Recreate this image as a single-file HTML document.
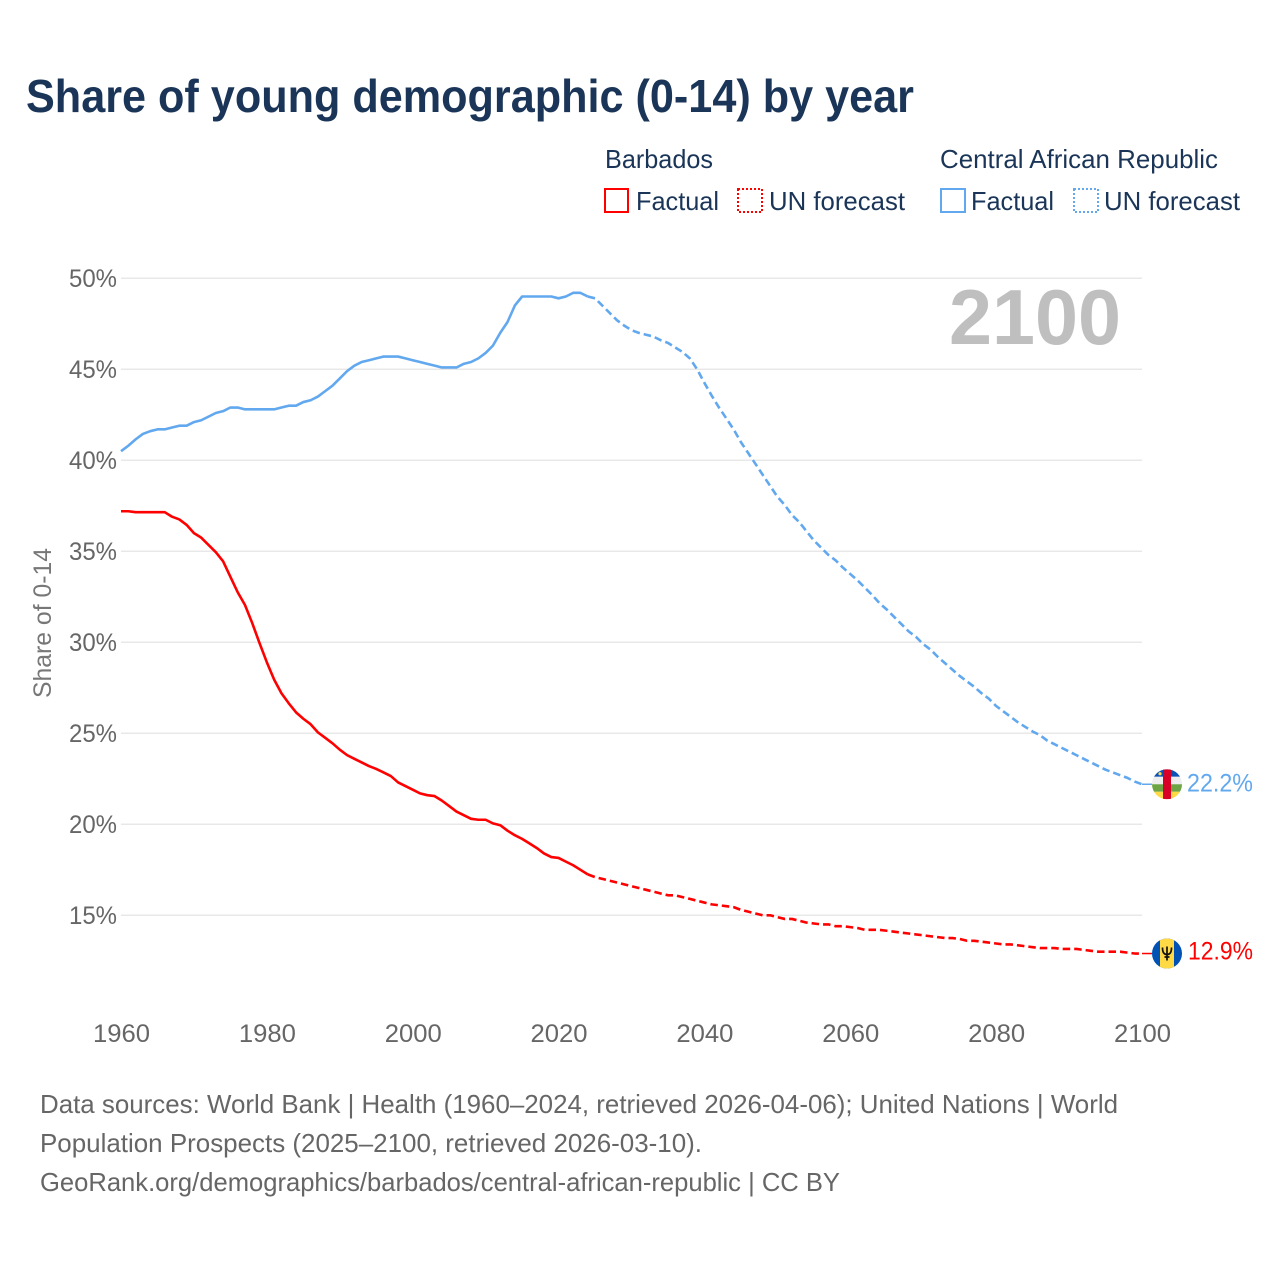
<!DOCTYPE html>
<html lang="en">
<head>
<meta charset="utf-8">
<title>Share of young demographic (0-14) by year</title>
<style>
html,body{margin:0;padding:0;background:#fff;width:1280px;height:1280px;overflow:hidden}
svg{display:block}
text{font-family:"Liberation Sans",sans-serif}
</style>
</head>
<body>
<svg id="chart" width="1280" height="1280" viewBox="0 0 1280 1280" xmlns="http://www.w3.org/2000/svg">
  <defs>
    <clipPath id="flag-clip"><circle cx="0" cy="0" r="15"/></clipPath>
  </defs>
  <rect width="1280" height="1280" fill="#fff"/>

  <text x="26" y="112" font-size="46" font-weight="700" fill="#1a3557" textLength="888" lengthAdjust="spacingAndGlyphs">Share of young demographic (0-14) by year</text>

  <g font-size="26" fill="#1a3557">
    <text x="605" y="168" textLength="108" lengthAdjust="spacingAndGlyphs">Barbados</text>
    <rect x="605" y="189" width="23" height="23" fill="none" stroke="#ff0000" stroke-width="2"/>
    <text x="636" y="210" textLength="83" lengthAdjust="spacingAndGlyphs">Factual</text>
    <rect x="738" y="189" width="24" height="23" fill="none" stroke="#ff0000" stroke-width="2" stroke-dasharray="2 2"/>
    <text x="769" y="210" textLength="136" lengthAdjust="spacingAndGlyphs">UN forecast</text>
    <text x="940" y="168" textLength="278" lengthAdjust="spacingAndGlyphs">Central African Republic</text>
    <rect x="941" y="189" width="24" height="23" fill="none" stroke="#62a8ee" stroke-width="2"/>
    <text x="971" y="210" textLength="83" lengthAdjust="spacingAndGlyphs">Factual</text>
    <rect x="1074" y="189" width="24" height="23" fill="none" stroke="#62a8ee" stroke-width="2" stroke-dasharray="2 2"/>
    <text x="1104" y="210" textLength="136" lengthAdjust="spacingAndGlyphs">UN forecast</text>
  </g>

  <g id="grid"></g>
  <g id="y-ticks"></g>
  <g id="x-ticks"></g>

  <text transform="translate(51,698) rotate(-90)" font-size="25" fill="#777777" textLength="150" lengthAdjust="spacingAndGlyphs">Share of 0-14</text>
  <text x="949" y="344" font-size="78" font-weight="700" fill="#bfbfbf" textLength="172" lengthAdjust="spacingAndGlyphs">2100</text>

  <g id="series"></g>

  <g id="flag-car">
    <g clip-path="url(#flag-clip)">
      <rect x="-15" y="-15" width="30" height="7.5" fill="#0a52b4"/>
      <rect x="-15" y="-7.5" width="30" height="7.5" fill="#eeeeee"/>
      <rect x="-15" y="0" width="30" height="7.5" fill="#6da544"/>
      <rect x="-15" y="7.5" width="30" height="7.5" fill="#ffda44"/>
      <rect x="-4" y="-15" width="8" height="30" fill="#d80027"/>
      <circle cx="-7" cy="-10.5" r="1.6" fill="#ffda44"/>
    </g>
  </g>
  <g id="flag-barbados">
    <g clip-path="url(#flag-clip)">
      <rect x="-15" y="-15" width="30" height="30" fill="#0052b4"/>
      <rect x="-7" y="-15" width="14" height="30" fill="#ffda44"/>
      <path d="M-4.5 -6 C-4.5 -1 -3 1 0 1 C3 1 4.5 -1 4.5 -6 M0 -7 L0 7 M-2.5 3.5 L2.5 3.5" fill="none" stroke="#111" stroke-width="1.7"/>
    </g>
  </g>

  <text id="label-car" x="1187" font-size="25" fill="#62a8ee" textLength="66" lengthAdjust="spacingAndGlyphs"></text>
  <text id="label-barbados" x="1188" font-size="25" fill="#ff0000" textLength="65" lengthAdjust="spacingAndGlyphs"></text>

  <g font-size="26" fill="#666666">
    <text x="40" y="1113" textLength="1078" lengthAdjust="spacingAndGlyphs">Data sources: World Bank | Health (1960–2024, retrieved 2026-04-06); United Nations | World</text>
    <text x="40" y="1152" textLength="662" lengthAdjust="spacingAndGlyphs">Population Prospects (2025–2100, retrieved 2026-03-10).</text>
    <text x="40" y="1191" textLength="800" lengthAdjust="spacingAndGlyphs">GeoRank.org/demographics/barbados/central-african-republic | CC BY</text>
  </g>
</svg>

<script>
const factualStartYear = 1960;
const forecastStartYear = 2024;
const xTickYears = [1960, 1980, 2000, 2020, 2040, 2060, 2080, 2100];
const yTickValues = [15, 20, 25, 30, 35, 40, 45, 50];

const carFactual = [
  40.5, 40.8, 41.15, 41.45, 41.6, 41.7, 41.7, 41.8, 41.9, 41.9,
  42.1, 42.2, 42.4, 42.6, 42.7, 42.9, 42.9, 42.8, 42.8, 42.8,
  42.8, 42.8, 42.9, 43.0, 43.0, 43.2, 43.3, 43.5, 43.8, 44.1,
  44.5, 44.9, 45.2, 45.4, 45.5, 45.6, 45.7, 45.7, 45.7, 45.6,
  45.5, 45.4, 45.3, 45.2, 45.1, 45.1, 45.1, 45.3, 45.4, 45.6,
  45.9, 46.3, 47.0, 47.6, 48.5, 49.0, 49.0, 49.0, 49.0, 49.0,
  48.9, 49.0, 49.2, 49.2, 49.0
];
const carForecast = [
  49.0, 48.9, 48.5, 48.1, 47.7, 47.4,
  47.15, 47.0, 46.9, 46.8, 46.6, 46.45, 46.2, 45.95, 45.6, 45.0,
  44.25, 43.55, 42.9, 42.3, 41.7, 41.0, 40.4, 39.8, 39.2, 38.6,
  38.0, 37.55, 37.0, 36.6, 36.1, 35.6, 35.2, 34.8, 34.5, 34.1,
  33.75, 33.4, 33.0, 32.6, 32.15, 31.8, 31.4, 31.0, 30.6, 30.3,
  29.9, 29.6, 29.2, 28.85, 28.5, 28.15, 27.85, 27.55, 27.2, 26.9,
  26.5, 26.2, 25.9, 25.6, 25.35, 25.1, 24.9, 24.6, 24.4, 24.2,
  24.0, 23.8, 23.6, 23.4, 23.2, 23.0, 22.85, 22.7, 22.55, 22.35,
  22.2
];
const barbadosFactual = [
  37.2, 37.2, 37.15, 37.15, 37.15, 37.15, 37.15, 36.9, 36.75, 36.45,
  36.0, 35.75, 35.35, 34.95, 34.45, 33.6, 32.75, 32.05, 31.05, 29.95,
  28.9, 27.95, 27.2, 26.65, 26.15, 25.8, 25.5, 25.05, 24.75, 24.45,
  24.1, 23.8, 23.6, 23.4, 23.2, 23.04, 22.85, 22.65, 22.3, 22.1,
  21.9, 21.7, 21.6, 21.55, 21.3, 21.0, 20.7, 20.5, 20.3, 20.25,
  20.25, 20.05, 19.95, 19.65, 19.4, 19.2, 18.95, 18.7, 18.4, 18.2,
  18.15, 17.95, 17.75, 17.5, 17.25
];
const barbadosForecast = [
  17.25, 17.1, 17.0, 16.9, 16.8, 16.7,
  16.6, 16.5, 16.4, 16.3, 16.2, 16.1, 16.1, 16.0, 15.9, 15.8,
  15.7, 15.6, 15.55, 15.5, 15.45, 15.3, 15.2, 15.1, 15.0, 15.0,
  14.9, 14.8, 14.8, 14.7, 14.6, 14.55, 14.5, 14.5, 14.4, 14.4,
  14.35, 14.3, 14.2, 14.2, 14.2, 14.15, 14.1, 14.05, 14.0, 13.95,
  13.9, 13.85, 13.8, 13.75, 13.75, 13.7, 13.6, 13.6, 13.55, 13.5,
  13.45, 13.4, 13.4, 13.35, 13.3, 13.25, 13.2, 13.2, 13.2, 13.15,
  13.15, 13.15, 13.1, 13.05, 13.0, 13.0, 13.0, 13.0, 12.95, 12.9,
  12.9
];

const SVG_NS = 'http://www.w3.org/2000/svg';
function xScale(year) { return 121 + (year - 1960) * (1021 / 140); }
function yScale(value) { return 278.3 + (50 - value) * 18.2; }

function make(tag, attrs, parent) {
  const el = document.createElementNS(SVG_NS, tag);
  for (const k in attrs) el.setAttribute(k, attrs[k]);
  parent.appendChild(el);
  return el;
}
function linePath(values, startYear) {
  return values.map((v, i) => (i ? 'L' : 'M') + xScale(startYear + i).toFixed(2) + ' ' + yScale(v).toFixed(2)).join(' ');
}

const gridGroup = document.getElementById('grid');
const yTickGroup = document.getElementById('y-ticks');
yTickValues.forEach(v => {
  const line = make('line', {x1: xScale(1960), x2: xScale(2100), y1: yScale(v), y2: yScale(v), stroke: '#e8e8e8', 'stroke-width': 1.5}, gridGroup);
  
  
  const label = make('text', {x: 69, y: yScale(v) + 8.5, 'font-size': 25, fill: '#666666', textLength: 48, lengthAdjust: 'spacingAndGlyphs'}, yTickGroup);
  
  
  label.textContent = v + '%';
});

const xTickGroup = document.getElementById('x-ticks');
xTickYears.forEach(yr => {
  const label = make('text', {x: xScale(yr) - 28.5 + 0.5, y: 1042, 'font-size': 25, fill: '#666666', textLength: 57, lengthAdjust: 'spacingAndGlyphs'}, xTickGroup);
  
  
  label.textContent = yr;
});

const seriesGroup = document.getElementById('series');
const lineBase = {fill: 'none', 'stroke-width': 2.6, 'stroke-linejoin': 'round'};

const carFactualLine = make('path', Object.assign({d: linePath(carFactual, factualStartYear), stroke: '#62a8ee'}, lineBase), seriesGroup);



const carForecastLine = make('path', Object.assign({d: linePath(carForecast, forecastStartYear), stroke: '#62a8ee', 'stroke-dasharray': '7.5 4'}, lineBase), seriesGroup);



const barbadosFactualLine = make('path', Object.assign({d: linePath(barbadosFactual, factualStartYear), stroke: '#ff0000'}, lineBase), seriesGroup);



const barbadosForecastLine = make('path', Object.assign({d: linePath(barbadosForecast, forecastStartYear), stroke: '#ff0000', 'stroke-dasharray': '7.5 4'}, lineBase), seriesGroup);



const carLast = carForecast[carForecast.length - 1];
const barbadosLast = barbadosForecast[barbadosForecast.length - 1];

const carConnector = make('line', {x1: xScale(2100), x2: 1152, y1: yScale(carLast), y2: yScale(carLast), stroke: '#62a8ee', 'stroke-width': 1.5}, seriesGroup);



const barbadosConnector = make('line', {x1: xScale(2100), x2: 1152, y1: yScale(barbadosLast), y2: yScale(barbadosLast), stroke: '#ff0000', 'stroke-width': 1.5}, seriesGroup);



document.getElementById('flag-car').setAttribute('transform', 'translate(1167,' + yScale(carLast).toFixed(2) + ')');
document.getElementById('flag-barbados').setAttribute('transform', 'translate(1167,' + yScale(barbadosLast).toFixed(2) + ')');

const carLabel = document.getElementById('label-car');
carLabel.setAttribute('y', (yScale(carLast) + 7).toFixed(2));
carLabel.textContent = carLast.toFixed(1) + '%';
const barbadosLabel = document.getElementById('label-barbados');
barbadosLabel.setAttribute('y', (yScale(barbadosLast) + 6).toFixed(2));
barbadosLabel.textContent = barbadosLast.toFixed(1) + '%';
</script>
</body>
</html>
